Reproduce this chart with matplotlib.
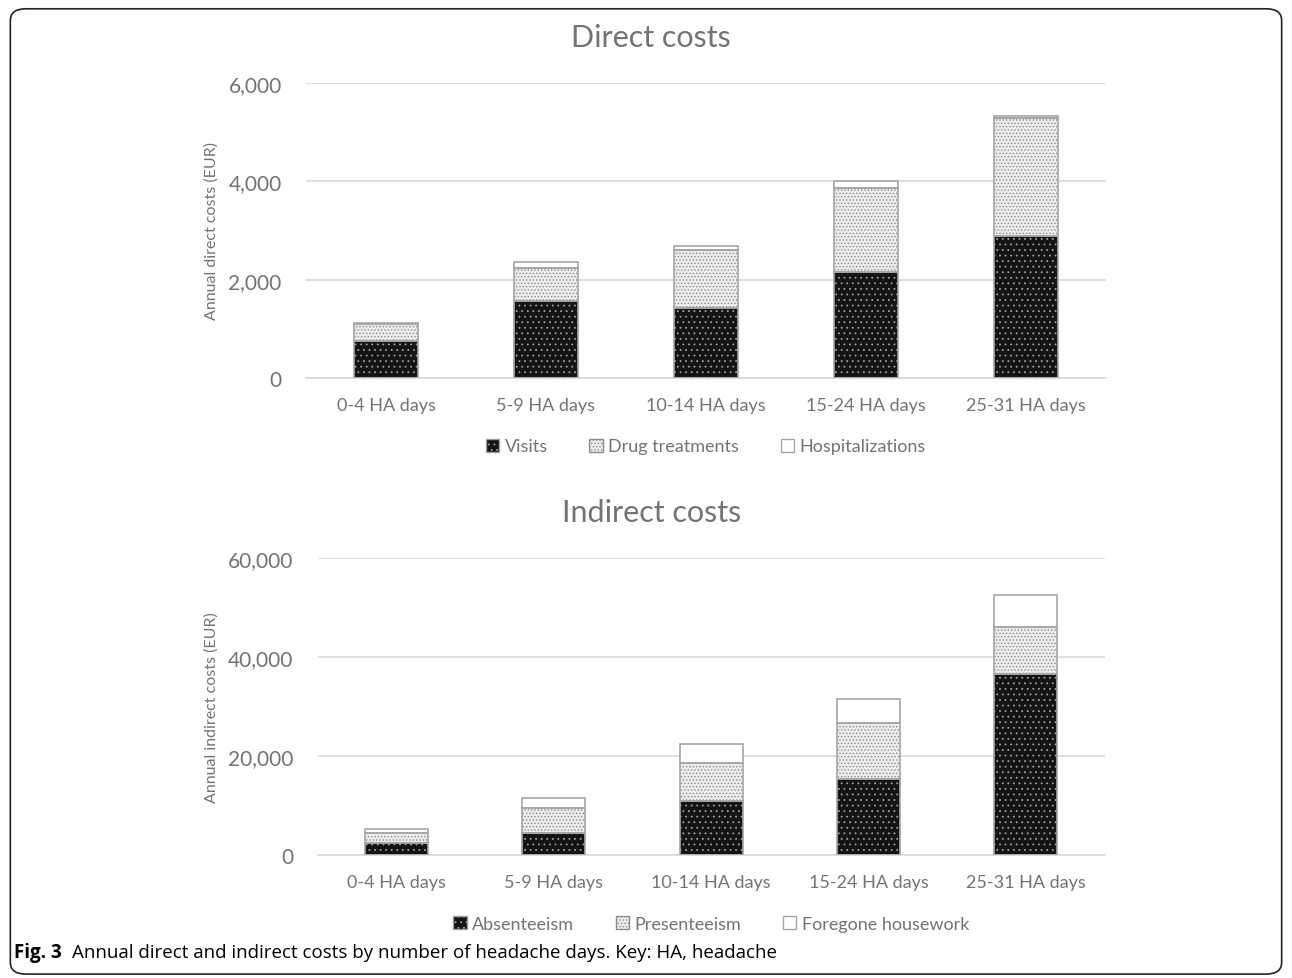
import matplotlib.pyplot as plt
from matplotlib.patches import Patch, FancyBboxPatch

plt.rcParams['font.family'] = ['Lato', 'DejaVu Sans']
plt.rcParams['hatch.linewidth'] = 0.6

categories = ['0-4 HA days', '5-9 HA days', '10-14 HA days', '15-24 HA days', '25-31 HA days']

# direct costs (EUR per year)
visits = [760, 1560, 1420, 2150, 2890]
drug_treatments = [340, 670, 1180, 1710, 2390]
hospitalizations = [10, 135, 85, 150, 40]

# indirect costs (EUR per year)
absenteeism = [2360, 4440, 10840, 15290, 36630]
presenteeism = [2020, 4990, 7680, 11310, 9490]
foregone_housework = [870, 2150, 3900, 4910, 6470]

GRID = '#d9d9d9'
TXT = '#737373'
OUTLINE = '#a6a6a6'

styles = [
    dict(facecolor='#141414', edgecolor='#a0a0a0', hatch='...'),
    dict(facecolor='#ececec', edgecolor='#8c8c8c', hatch='.....'),
    dict(facecolor='white', edgecolor='white', hatch=None),
]


def stacked(ax, series, names, ymax, step, ylabel):
    x = range(len(categories))
    bottom = [0] * len(categories)
    handles = []
    for vals, st, name in zip(series, styles, names):
        ax.bar(x, vals, 0.4, bottom=bottom, linewidth=0, zorder=2, **st)
        ax.bar(x, vals, 0.4, bottom=bottom, facecolor='none',
               edgecolor=OUTLINE, linewidth=1.2, zorder=3)
        bottom = [b + v for b, v in zip(bottom, vals)]
        handles.append(Patch(facecolor=st['facecolor'], hatch=st['hatch'],
                             edgecolor=OUTLINE if st['hatch'] is None else st['edgecolor'],
                             linewidth=1, label=name))
    ax.set_xlim(-0.5, len(categories) - 0.5)
    ax.set_ylim(0, ymax)
    ax.set_yticks(range(0, ymax + 1, step))
    ax.set_yticklabels([f'{v:,}' for v in range(0, ymax + 1, step)])
    ax.set_xticks(list(x))
    ax.set_xticklabels(categories)
    ax.grid(axis='y', color=GRID, linewidth=1.2, zorder=0)
    ax.set_axisbelow(True)
    for s in ['top', 'right', 'left']:
        ax.spines[s].set_visible(False)
    ax.spines['bottom'].set_color(GRID)
    ax.spines['bottom'].set_linewidth(1.2)
    ax.tick_params(length=0, colors=TXT, labelsize=13, pad=14)
    ax.tick_params(axis='y', labelsize=15, pad=17.5)
    ax.set_ylabel(ylabel, color=TXT, fontsize=11.5, labelpad=7)
    leg = ax.legend(handles=handles, loc='upper center', bbox_to_anchor=(0.5, -0.15),
                    ncol=3, frameon=False, handlelength=0.75, handleheight=0.75,
                    handletextpad=0.3, columnspacing=2.3, prop={'size': 13})
    for t in leg.get_texts():
        t.set_color(TXT)
    return ax


fig = plt.figure(figsize=(12.92, 9.79), dpi=100)

ax1 = fig.add_axes([0.2368, 0.6129, 0.6192, 0.3013])
stacked(ax1, [visits, drug_treatments, hospitalizations],
        ['Visits', 'Drug treatments', 'Hospitalizations'],
        6000, 2000, 'Annual direct costs (EUR)')
fig.text(0.504, 0.961, 'Direct costs', ha='center', va='center',
         fontsize=22, color=TXT)

ax2 = fig.add_axes([0.2461, 0.1256, 0.6088, 0.3034])
stacked(ax2, [absenteeism, presenteeism, foregone_housework],
        ['Absenteeism', 'Presenteeism', 'Foregone housework'],
        60000, 20000, 'Annual indirect costs (EUR)')
fig.text(0.504, 0.476, 'Indirect costs', ha='center', va='center',
         fontsize=22, color=TXT)

# frame around the figure and its caption
frame = FancyBboxPatch((0.008, 0.004), 0.984, 0.986, transform=fig.transFigure,
                       boxstyle='round,pad=0,rounding_size=0.012',
                       facecolor='none', edgecolor='#222222', linewidth=1.2)
fig.patches.append(frame)

fig.text(0.011, 0.027, 'Fig. 3', fontsize=13.5, fontweight='bold', va='center',
         family=['Open Sans', 'DejaVu Sans'])
fig.text(0.056, 0.027, 'Annual direct and indirect costs by number of headache days. Key: HA, headache',
         fontsize=13.5, va='center', family=['Open Sans', 'DejaVu Sans'])

fig.savefig('out.png', dpi=100)
